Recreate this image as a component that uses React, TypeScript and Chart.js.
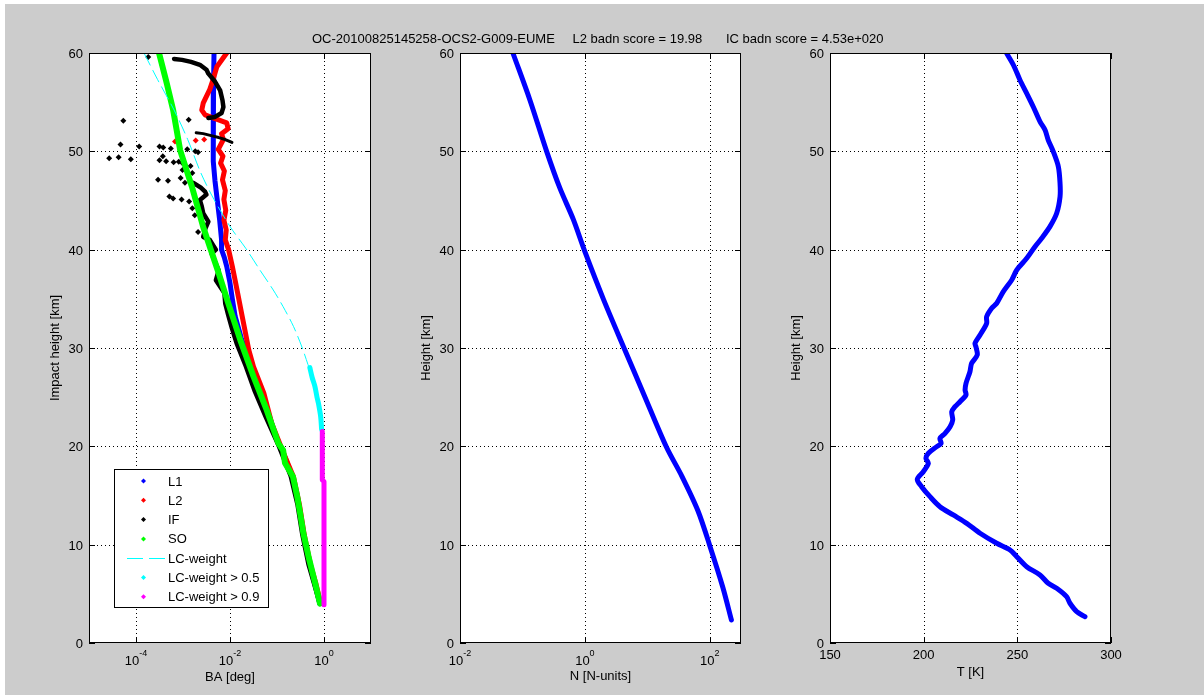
import React, { useEffect, useRef } from 'react';
import { Chart, registerables } from 'chart.js';

Chart.register(...registerables);

const FIG_W = 1204;
const FIG_H = 695;
const FONT = '"Liberation Sans", Arial, Helvetica, sans-serif';

// ---------- text ----------
const TITLE_PARTS = ['OC-20100825145258-OCS2-G009-EUME', 'L2 badn score = 19.98', 'IC badn score = 4.53e+020'];
const LEGEND_LABELS = ['L1', 'L2', 'IF', 'SO', 'LC-weight', 'LC-weight > 0.5', 'LC-weight > 0.9'];

// ---------- ticks ----------
const HEIGHT_TICKS = [0, 10, 20, 30, 40, 50, 60];
const BA_TICKS = [1e-4, 1e-2, 1];
const N_TICKS = [1e-2, 1, 1e2];
const T_TICKS = [150, 200, 250, 300];

// ---------- panel 1 : bending angle [deg] vs impact height [km] ----------
const L1_H = [60, 57, 54, 51, 49, 47, 45, 43, 41, 40, 39.2, 38.3, 36.6, 35, 33.2, 31, 29, 27, 25, 23, 21, 19, 17, 15, 13, 11, 9, 7, 5, 4];
const L1_BA = [4.57e-3, 4.47e-3, 4.37e-3, 4.37e-3, 4.47e-3, 4.79e-3, 5.37e-3, 6.03e-3, 6.61e-3, 6.61e-3, 7.59e-3, 8.51e-3, 1.0e-2, 1.12e-2, 1.29e-2, 1.74e-2, 2.40e-2, 3.39e-2, 4.79e-2, 6.92e-2, 9.55e-2, 0.145, 0.209, 0.269, 0.316, 0.372, 0.447, 0.562, 0.724, 0.813];

const L2_H = [60, 58.6, 57.3, 56.3, 54.9, 54.2, 53.7, 53.4, 52.9, 52.3, 51.8, 51.2, 50.2, 49.5, 48.8, 48, 47.1, 46, 45.1, 44, 43, 42, 41, 40, 38.3, 36.6, 34.9, 33.2, 31.5, 29.8, 28.1, 25.4, 22.3, 19.3, 16.9, 14, 11, 8, 6, 4];
const L2_BA = [8.51e-3, 5.25e-3, 4.37e-3, 3.72e-3, 2.69e-3, 2.51e-3, 2.95e-3, 4.37e-3, 8.51e-3, 9.12e-3, 6.61e-3, 7.24e-3, 5.62e-3, 7.08e-3, 6.31e-3, 7.59e-3, 6.92e-3, 7.94e-3, 7.41e-3, 8.13e-3, 7.41e-3, 8.32e-3, 7.94e-3, 9.33e-3, 1.12e-2, 1.32e-2, 1.55e-2, 1.82e-2, 2.14e-2, 2.51e-2, 3.16e-2, 5.25e-2, 7.76e-2, 0.138, 0.224, 0.302, 0.380, 0.513, 0.676, 0.851];
const L2_DOT_H = [51.0, 51.1, 51.2];
const L2_DOT_BA = [6.76e-4, 1.86e-3, 2.82e-3];

const IF_ARC_H = [59.4, 59.3, 59.1, 58.8, 58.3, 57.9, 57.1, 56.2, 55.2, 54.5, 53.9, 53.5, 53.4];
const IF_ARC_BA = [6.46e-4, 9.55e-4, 1.48e-3, 2.29e-3, 3.16e-3, 3.47e-3, 4.79e-3, 6.17e-3, 6.92e-3, 7.24e-3, 6.61e-3, 4.79e-3, 3.47e-3];
const IF_STREAK_H = [51.9, 51.8, 51.6, 51.4, 51.2, 50.9];
const IF_STREAK_BA = [1.91e-3, 2.69e-3, 3.98e-3, 5.75e-3, 7.94e-3, 1.10e-2];
const IF_LOW_H = [46.8, 46.3, 45.9, 45.6, 45.05, 44.4, 43.7, 42.85, 42.2, 41.3, 41, 40, 39.6, 39, 37.9, 36.9, 35.6, 34.5, 33.4, 32, 30.5, 28.1, 25.7, 23, 20, 17, 14, 11, 8, 6, 4];
const IF_LOW_BA = [1.66e-3, 2.40e-3, 2.95e-3, 3.16e-3, 2.29e-3, 2.51e-3, 2.69e-3, 3.47e-3, 3.02e-3, 2.69e-3, 3.72e-3, 5.01e-3, 4.07e-3, 4.57e-3, 5.75e-3, 5.01e-3, 7.59e-3, 7.94e-3, 9.12e-3, 1.10e-2, 1.38e-2, 2.19e-2, 3.31e-2, 5.75e-2, 0.110, 0.195, 0.275, 0.347, 0.468, 0.617, 0.813];
const IF_DOT_H = [59.6, 53.1, 50.7, 50.5, 49.3, 49.4, 49.2, 50.5, 50.4, 50.3, 49.5, 49.1, 49.0, 48.9, 48.95, 47.1, 47.0, 47.3, 46.8, 53.2, 50.2, 50.0, 49.9, 48.8, 48.1, 48.5, 47.8, 45.4, 45.2, 45.1, 44.9, 44.2, 43.5, 41.8];
const IF_DOT_BA = [1.82e-4, 5.37e-5, 4.68e-5, 1.17e-4, 2.69e-5, 4.27e-5, 7.76e-5, 3.16e-4, 3.80e-4, 5.50e-4, 3.72e-4, 3.16e-4, 4.37e-4, 6.31e-4, 8.13e-4, 2.95e-4, 4.79e-4, 8.91e-4, 1.10e-3, 1.32e-3, 1.23e-3, 1.82e-3, 2.09e-3, 9.77e-4, 9.77e-4, 1.45e-3, 1.58e-3, 5.13e-4, 6.17e-4, 9.33e-4, 1.35e-3, 1.58e-3, 1.78e-3, 2.09e-3];

const SO_H = [60, 57, 54.2, 50.1, 46.4, 42.3, 40.3, 37.6, 34.9, 30.8, 27.1, 23.7, 20.3, 19.6, 18.3, 16.9, 14.9, 13, 11.2, 8.8, 6.1, 4];
const SO_BA = [3.09e-4, 4.47e-4, 6.17e-4, 8.71e-4, 1.55e-3, 2.69e-3, 3.72e-3, 5.75e-3, 8.71e-3, 1.66e-2, 3.16e-2, 6.03e-2, 0.107, 0.135, 0.148, 0.219, 0.269, 0.316, 0.363, 0.468, 0.646, 0.822];

const LCW_H = [60, 57.3, 54.2, 51.2, 47.8, 45.1, 42.3, 40.1, 37.9, 35.9, 34.2, 32.2, 30.1, 28.3, 26.1, 24.4, 23, 21.7, 18, 14, 10, 4];
const LCW_VAL = [1.48e-4, 2.88e-4, 6.46e-4, 1.26e-3, 2.40e-3, 4.57e-3, 1.02e-2, 2.19e-2, 4.37e-2, 8.32e-2, 0.135, 0.224, 0.339, 0.457, 0.646, 0.759, 0.851, 0.891, 0.933, 0.955, 0.977, 1.0];
const LCW05_H = [28, 27, 26.1, 25, 24.4, 23, 21.7];
const LCW05_VAL = [0.50, 0.56, 0.64, 0.71, 0.76, 0.85, 0.89];
const LCW09_H = [21.5, 19, 16.6, 16.4, 12, 8, 3.9];
const LCW09_VAL = [0.92, 0.92, 0.92, 1.0, 1.0, 1.0, 1.0];

// ---------- panel 2 : refractivity ----------
const N_H = [59.9, 55.2, 50.0, 46.25, 43.1, 39.8, 34.9, 29.9, 25.2, 19.9, 17.0, 13.45, 9.9, 5.65, 2.34];
const N_VAL = [0.0713, 0.132, 0.244, 0.398, 0.650, 1.0, 2.0, 4.3, 8.9, 20.3, 35.5, 64.6, 100, 162, 222];

// ---------- panel 3 : temperature ----------
const T_H = [59.97, 58.78, 57.26, 55.9, 54.54, 53.02, 52.17, 51.15, 49.97, 48.44, 46.75, 45.39, 43.7, 42.34, 41.16, 40.3, 39.12, 37.93, 36.92, 35.73, 34.55, 34.04, 33.18, 32.51, 31.32, 30.48, 30.13, 29.29, 28.44, 27.59, 26.41, 25.73, 25.22, 24.54, 24.03, 23.52, 22.68, 22.0, 21.32, 20.81, 20.31, 19.97, 19.29, 18.78, 18.27, 17.42, 16.65, 15.9, 14.88, 13.86, 13.02, 12.17, 11.16, 10.14, 9.46, 8.78, 7.76, 6.92, 6.07, 5.56, 4.71, 4.04, 3.19, 2.67];
const T_VAL = [244.3, 247.9, 251.4, 255.0, 258.5, 262.1, 264.8, 266.5, 269.2, 271.9, 272.8, 272.8, 271.0, 267.4, 263.0, 259.4, 255.0, 249.7, 247.0, 242.5, 239.0, 236.3, 233.6, 233.6, 230.1, 227.4, 227.9, 228.6, 225.6, 224.7, 222.6, 222.1, 222.6, 219.4, 216.7, 215.0, 215.5, 214.1, 211.4, 208.7, 209.3, 207.0, 202.5, 201.2, 202.5, 199.8, 196.6, 198.9, 203.4, 208.7, 215.8, 223.0, 230.1, 239.0, 246.1, 249.7, 255.0, 262.1, 266.5, 271.0, 276.3, 278.1, 281.7, 286.1];

// ---------- helpers ----------
const pairs = (vals: number[], hs: number[]) => hs.map((h, i) => ({ x: vals[i], y: h }));

function lineDs(label: string, vals: number[], hs: number[], color: string, width: number, order: number, extra: any = {}) {
  return {
    label, data: pairs(vals, hs), showLine: true, borderColor: color, backgroundColor: color,
    borderWidth: width, pointRadius: 0, pointHoverRadius: 0, borderCapStyle: 'round', borderJoinStyle: 'round',
    tension: 0, fill: false, order, ...extra,
  };
}
function dotDs(label: string, vals: number[], hs: number[], color: string, order: number) {
  return {
    label, data: pairs(vals, hs), showLine: false, pointRadius: 3, pointHoverRadius: 3, pointStyle: 'rectRot',
    backgroundColor: color, borderColor: color, borderWidth: 0, order,
  };
}

interface Panel {
  left: number; right: number; logX: boolean; xMin: number; xMax: number; xTicks: number[];
  xLabel: string; xLabelBase: number; yLabel: string; legend?: boolean; title?: boolean;
}
const TOP = 53;
const BOTTOM = 643;

function supLabel(v: number) {
  return String(Math.round(Math.log10(v)));
}

function makePlugin(p: Panel) {
  return {
    id: 'matlabAxes',
    beforeDatasetsDraw(chart: any) {
      const { ctx, chartArea: a, scales } = chart;
      ctx.save();
      ctx.fillStyle = '#ffffff';
      ctx.fillRect(a.left, a.top, a.right - a.left, a.bottom - a.top);
      ctx.strokeStyle = '#000000';
      ctx.lineWidth = 1;
      ctx.setLineDash([1, 3]);
      ctx.beginPath();
      for (const v of p.xTicks) {
        const x = Math.round(scales.x.getPixelForValue(v)) + 0.5;
        if (x <= a.left + 2 || x >= a.right - 2) continue;
        ctx.moveTo(x, a.top); ctx.lineTo(x, a.bottom);
      }
      for (const v of HEIGHT_TICKS) {
        const y = Math.round(scales.y.getPixelForValue(v)) + 0.5;
        if (y <= a.top + 2 || y >= a.bottom - 2) continue;
        ctx.moveTo(a.left, y); ctx.lineTo(a.right, y);
      }
      ctx.stroke();
      ctx.restore();
    },
    afterDatasetsDraw(chart: any) {
      const { ctx, chartArea: a, scales } = chart;
      ctx.save();
      ctx.setLineDash([]);
      ctx.strokeStyle = '#000000';
      ctx.lineWidth = 1;
      // box
      ctx.strokeRect(a.left + 0.5, a.top + 0.5, a.right - a.left - 1, a.bottom - a.top - 1);
      // ticks
      const TL = 6;
      ctx.beginPath();
      for (const v of p.xTicks) {
        const x = Math.round(scales.x.getPixelForValue(v)) + 0.5;
        ctx.moveTo(x, a.bottom); ctx.lineTo(x, a.bottom - TL);
        ctx.moveTo(x, a.top); ctx.lineTo(x, a.top + TL);
      }
      for (const v of HEIGHT_TICKS) {
        const y = Math.round(scales.y.getPixelForValue(v)) + 0.5;
        ctx.moveTo(a.left, y); ctx.lineTo(a.left + TL, y);
        ctx.moveTo(a.right, y); ctx.lineTo(a.right - TL, y);
      }
      ctx.stroke();

      ctx.fillStyle = '#000000';
      // y tick labels
      ctx.font = `13px ${FONT}`;
      ctx.textAlign = 'right';
      ctx.textBaseline = 'alphabetic';
      for (const v of HEIGHT_TICKS) {
        const y = scales.y.getPixelForValue(v);
        ctx.fillText(String(v), a.left - 6, y + 5);
      }
      // x tick labels
      for (const v of p.xTicks) {
        const x = scales.x.getPixelForValue(v);
        if (p.logX) {
          const exp = supLabel(v);
          ctx.font = `13px ${FONT}`;
          const w1 = ctx.measureText('10').width;
          ctx.font = `9px ${FONT}`;
          const w2 = ctx.measureText(exp).width;
          const x0 = x - (w1 + w2) / 2;
          ctx.textAlign = 'left';
          ctx.font = `13px ${FONT}`;
          ctx.fillText('10', x0, 664.5);
          ctx.font = `9px ${FONT}`;
          ctx.fillText(exp, x0 + w1, 655.5);
        } else {
          ctx.font = `13px ${FONT}`;
          ctx.textAlign = 'center';
          ctx.fillText(String(v), x, 659);
        }
      }
      // axis labels
      ctx.font = `13px ${FONT}`;
      ctx.textAlign = 'center';
      ctx.fillText(p.xLabel, (a.left + a.right) / 2, p.xLabelBase);
      ctx.save();
      ctx.translate(a.left - 29.7, (a.top + a.bottom) / 2);
      ctx.rotate(-Math.PI / 2);
      ctx.fillText(p.yLabel, 0, 0);
      ctx.restore();

      if (p.title) {
        ctx.textAlign = 'left';
        ctx.font = `13px ${FONT}`;
        ctx.fillText(TITLE_PARTS[0], 312, 43);
        ctx.fillText(TITLE_PARTS[1], 572.5, 43);
        ctx.fillText(TITLE_PARTS[2], 726, 43);
      }

      if (p.legend) {
        const lx = 114, ly = 469, lw = 154, lh = 138;
        ctx.fillStyle = '#ffffff';
        ctx.fillRect(lx, ly, lw, lh);
        ctx.strokeStyle = '#000000';
        ctx.strokeRect(lx + 0.5, ly + 0.5, lw, lh);
        const colors = ['#0000ff', '#ff0000', '#000000', '#00ff00', '#00ffff', '#00ffff', '#ff00ff'];
        ctx.font = `13px ${FONT}`;
        ctx.textAlign = 'left';
        LEGEND_LABELS.forEach((lab, i) => {
          const cy = 481 + i * 19.3;
          if (i === 4) {
            ctx.strokeStyle = colors[i];
            ctx.lineWidth = 1;
            ctx.beginPath();
            ctx.moveTo(127, Math.round(cy) + 0.5); ctx.lineTo(143, Math.round(cy) + 0.5);
            ctx.moveTo(149, Math.round(cy) + 0.5); ctx.lineTo(165, Math.round(cy) + 0.5);
            ctx.stroke();
          } else {
            ctx.fillStyle = colors[i];
            ctx.beginPath();
            ctx.moveTo(143.5, cy - 2.5); ctx.lineTo(146, cy); ctx.lineTo(143.5, cy + 2.5); ctx.lineTo(141, cy);
            ctx.closePath();
            ctx.fill();
          }
          ctx.fillStyle = '#000000';
          ctx.fillText(lab, 168, cy + 4.5);
        });
      }
      ctx.restore();
    },
  };
}

function makeConfig(p: Panel, datasets: any[]) {
  return {
    type: 'scatter',
    data: { datasets },
    options: {
      responsive: false,
      animation: false,
      events: [],
      layout: { padding: { left: p.left, right: FIG_W - p.right, top: TOP, bottom: FIG_H - BOTTOM } },
      plugins: { legend: { display: false }, tooltip: { enabled: false }, title: { display: false } },
      scales: {
        x: { type: p.logX ? 'logarithmic' : 'linear', min: p.xMin, max: p.xMax, display: false },
        y: { type: 'linear', min: 0, max: 60, display: false },
      },
    },
    plugins: [makePlugin(p)],
  } as any;
}

const PANEL_BA: Panel = { left: 89, right: 371, logX: true, xMin: 1e-5, xMax: 10, xTicks: BA_TICKS, xLabel: 'BA [deg]', xLabelBase: 681, yLabel: 'Impact height [km]', legend: true };
const PANEL_N: Panel = { left: 460, right: 741, logX: true, xMin: 1e-2, xMax: 316.2, xTicks: N_TICKS, xLabel: 'N [N-units]', xLabelBase: 680, yLabel: 'Height [km]', title: true };
const PANEL_T: Panel = { left: 830, right: 1111, logX: false, xMin: 150, xMax: 300, xTicks: T_TICKS, xLabel: 'T [K]', xLabelBase: 675.5, yLabel: 'Height [km]' };

export default function App() {
  const c1 = useRef<HTMLCanvasElement>(null);
  const c2 = useRef<HTMLCanvasElement>(null);
  const c3 = useRef<HTMLCanvasElement>(null);

  useEffect(() => {
    const ds1 = [
      lineDs('L1', L1_BA, L1_H, '#0000ff', 5, 9),
      lineDs('L2', L2_BA, L2_H, '#ff0000', 5, 8),
      dotDs('L2', L2_DOT_BA, L2_DOT_H, '#ff0000', 8),
      lineDs('IF', IF_ARC_BA, IF_ARC_H, '#000000', 4.5, 7),
      lineDs('IF', IF_STREAK_BA, IF_STREAK_H, '#000000', 3, 7),
      lineDs('IF', IF_LOW_BA, IF_LOW_H, '#000000', 4.5, 7),
      dotDs('IF', IF_DOT_BA, IF_DOT_H, '#000000', 7),
      lineDs('SO', SO_BA, SO_H, '#00ff00', 6, 6),
      lineDs('LC-weight', LCW_VAL, LCW_H, '#00ffff', 1, 5, { borderDash: [14, 5], borderCapStyle: 'butt', tension: 0.3 }),
      lineDs('LC-weight > 0.5', LCW05_VAL, LCW05_H, '#00ffff', 5, 4, { tension: 0.3 }),
      lineDs('LC-weight > 0.9', LCW09_VAL, LCW09_H, '#ff00ff', 5, 3),
    ];
    const ds2 = [lineDs('N', N_VAL, N_H, '#0000ff', 5, 1, { tension: 0.3 })];
    const ds3 = [lineDs('T', T_VAL, T_H, '#0000ff', 5, 1, { tension: 0.3 })];
    const charts = [
      new Chart(c1.current as HTMLCanvasElement, makeConfig(PANEL_BA, ds1)),
      new Chart(c2.current as HTMLCanvasElement, makeConfig(PANEL_N, ds2)),
      new Chart(c3.current as HTMLCanvasElement, makeConfig(PANEL_T, ds3)),
    ];
    return () => charts.forEach((c) => c.destroy());
  }, []);

  const cs: React.CSSProperties = { position: 'absolute', left: 0, top: 0, width: FIG_W, height: FIG_H };
  return (
    <div style={{ position: 'fixed', left: 0, top: 0, width: FIG_W, height: FIG_H, background: '#ffffff', overflow: 'hidden' }}>
      <div style={{ position: 'absolute', left: 5, top: 4, right: 0, bottom: 0, background: '#cccccc' }} />
      <canvas ref={c1} width={FIG_W} height={FIG_H} style={cs} />
      <canvas ref={c2} width={FIG_W} height={FIG_H} style={cs} />
      <canvas ref={c3} width={FIG_W} height={FIG_H} style={cs} />
    </div>
  );
}
